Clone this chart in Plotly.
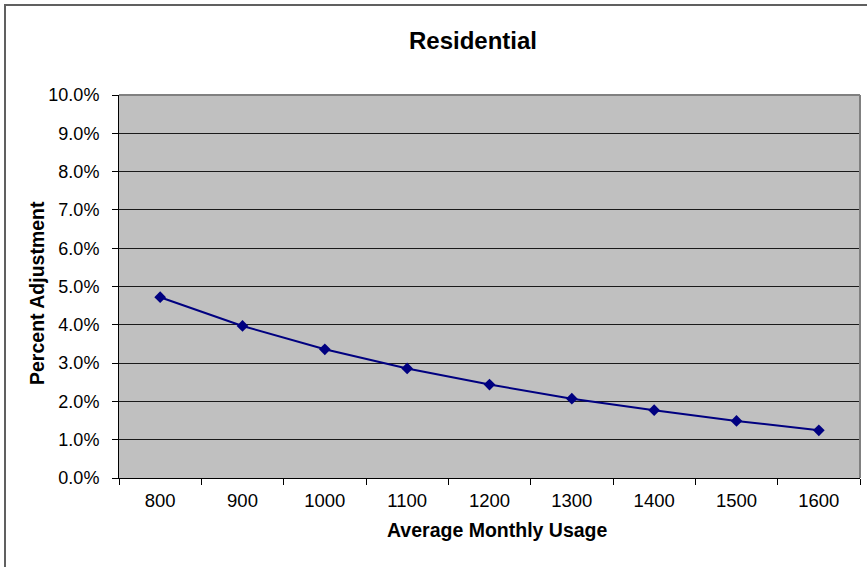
import plotly.graph_objects as go

usage = ["800", "900", "1000", "1100", "1200", "1300", "1400", "1500", "1600"]
pct_adjust = [4.72, 3.97, 3.36, 2.86, 2.44, 2.07, 1.77, 1.49, 1.245]
y_ticks = [0, 1, 2, 3, 4, 5, 6, 7, 8, 9, 10]
y_tick_labels = [f"{v:.1f}%" for v in y_ticks]

W, H = 867, 567
L, R, T, B = 119, 7, 95, 89
PW, PH = W - L - R, H - T - B

def px(x):
    return (x - L) / PW

def py(y):
    return (H - B - y) / PH

FONT = "Liberation Sans, Arial, sans-serif"

fig = go.Figure()
fig.add_trace(go.Scatter(
    x=usage, y=pct_adjust, mode="lines+markers",
    line=dict(color="#000080", width=2),
    marker=dict(symbol="diamond", size=9, color="#000080"),
    showlegend=False,
))

fig.update_layout(
    width=W, height=H,
    margin=dict(l=L, r=R, t=T, b=B),
    paper_bgcolor="white", plot_bgcolor="#c0c0c0",
    font=dict(family=FONT, size=18, color="black"),
    xaxis=dict(
        type="category", range=[-0.5, 8.5], tickson="boundaries",
        ticks="outside", ticklen=6, tickcolor="black", tickwidth=1,
        showline=True, linecolor="black", linewidth=1,
        showgrid=False, tickfont=dict(size=18.5), ticklabelstandoff=6,
    ),
    yaxis=dict(
        range=[0, 10], tickvals=y_ticks, ticktext=y_tick_labels,
        ticks="outside", ticklen=6, tickcolor="black", tickwidth=1,
        showline=True, linecolor="black", linewidth=1,
        showgrid=True, gridcolor="#1a1a1a", gridwidth=1,
        zeroline=False, tickfont=dict(size=18), ticklabelstandoff=9,
    ),
    annotations=[
        dict(text="<b>Residential</b>", x=px(472.5), y=py(41), xref="paper", yref="paper",
             showarrow=False, xanchor="center", yanchor="middle", font=dict(size=24)),
        dict(text="<b>Average Monthly Usage</b>", x=px(496.5), y=py(530), xref="paper", yref="paper",
             showarrow=False, xanchor="center", yanchor="middle", font=dict(size=19.5)),
        dict(text="<b>Percent Adjustment</b>", x=px(37), y=py(293), xref="paper", yref="paper",
             showarrow=False, xanchor="center", yanchor="middle", textangle=-90, font=dict(size=19.5)),
    ],
    shapes=[
        dict(type="line", xref="paper", yref="paper", x0=0, x1=1, y0=1, y1=1,
             line=dict(color="#808080", width=2)),
        dict(type="line", xref="paper", yref="paper", x0=1, x1=1, y0=0, y1=1,
             line=dict(color="#808080", width=2)),
        dict(type="line", xref="paper", yref="paper", x0=px(5), x1=px(5), y0=py(4), y1=py(567),
             line=dict(color="#606060", width=2)),
        dict(type="line", xref="paper", yref="paper", x0=px(5), x1=px(867), y0=py(5), y1=py(5),
             line=dict(color="#606060", width=2)),
    ],
)

fig.write_html("out.html", config={"displayModeBar": False},
               post_script="document.body.style.margin='0';")
